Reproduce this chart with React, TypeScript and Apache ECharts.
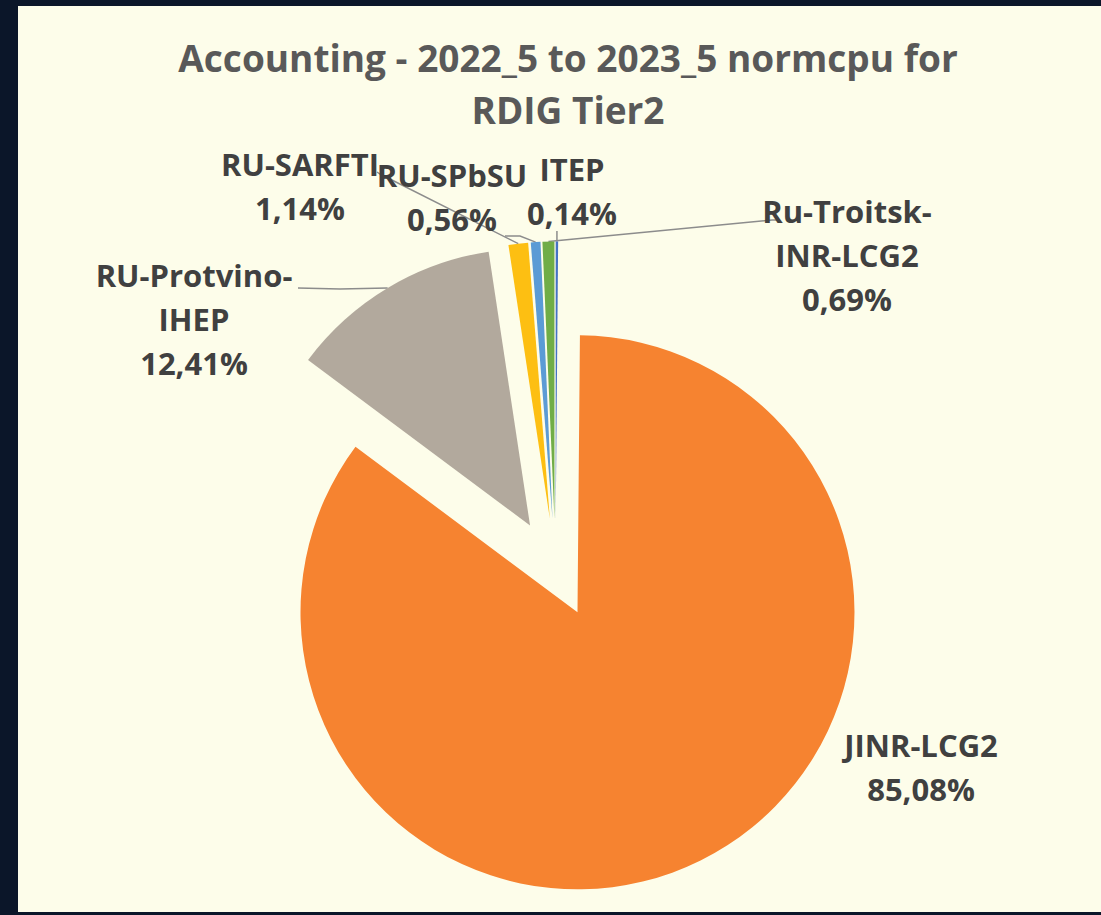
import React, { useEffect, useRef } from 'react';
import * as echarts from 'echarts';

// ---------- data ----------
const categories = ['ITEP', 'JINR-LCG2', 'RU-Protvino-IHEP', 'RU-SARFTI', 'RU-SPbSU', 'Ru-Troitsk-INR-LCG2'];
const shares = [0.14, 85.08, 12.41, 1.14, 0.56, 0.69];
const titleLines = ['Accounting - 2022_5 to 2023_5 normcpu for', 'RDIG Tier2'];

// ---------- styles / layout ----------
const colors = ['#4472C4', '#F68330', '#B2A99D', '#FDBF12', '#5B9BD5', '#70AD47'];
const PIE_CX = 555.5;
const PIE_CY = 568;
const PIE_R = 277;
const EXPLODE = 49.5;
const TITLE_X = 568;
const TITLE_Y = 31;
const labelCenters: [number, number][] = [
  [572, 191],
  [921, 767],
  [194, 319],
  [300, 186],
  [452, 197],
  [847, 255],
];
// intermediate / end points of the leader lines
const leaderTails: ([number, number][] | null)[] = [
  [[0, 231], [0, 231]], // x replaced with edge x (vertical tick)
  null,
  [[340, 289], [298, 288]],
  [[380, 174], [377, 172]],
  [[520, 236], [505, 236]],
  [[772, 220], [779, 220]],
];

const LABEL_FONT = {
  fontFamily: 'Open Sans',
  fontWeight: 'bold' as const,
  fontSize: 31,
  lineHeight: 44,
  color: '#404040',
};

function wrapName(name: string): string {
  const parts = name.split('-');
  if (name.length > 12 && parts.length >= 3) {
    return parts.slice(0, 2).join('-') + '-\n' + parts.slice(2).join('-');
  }
  return name;
}

function formatPct(v: number): string {
  return v.toFixed(2).replace('.', ',') + '%';
}

export default function App() {
  const ref = useRef<HTMLDivElement>(null);

  useEffect(() => {
    if (!ref.current) return;
    const chart = echarts.init(ref.current, undefined, { renderer: 'svg' });

    const total = shares.reduce((a, b) => a + b, 0);
    let cum = 0;
    const series = shares.map((v, i) => {
      const mid = ((cum + v / 2) / total) * 2 * Math.PI;
      cum += v;
      const cx = PIE_CX + EXPLODE * Math.sin(mid);
      const cy = PIE_CY - EXPLODE * Math.cos(mid);
      const edge: [number, number] = [cx + PIE_R * Math.sin(mid), cy - PIE_R * Math.cos(mid)];
      return {
        type: 'pie',
        center: [cx, cy],
        radius: PIE_R,
        startAngle: 90,
        clockwise: true,
        avoidLabelOverlap: false,
        silent: true,
        emphasis: { disabled: true },
        label: {
          position: 'outside',
          formatter: (p: any) => wrapName(p.name) + '\n' + formatPct(p.value),
          ...LABEL_FONT,
          align: 'center',
        },
        labelLine: {
          lineStyle: { color: '#8C8C8C', width: 1.5 },
        },
        labelLayout: (p: any) => {
          const c = labelCenters[p.dataIndex];
          const tail = leaderTails[p.dataIndex];
          const res: any = { x: c[0], y: c[1], align: 'center', verticalAlign: 'middle' };
          if (tail) {
            const pts: [number, number][] = [edge];
            tail.forEach((pt) => {
              pts.push(p.dataIndex === 0 ? [edge[0], pt[1]] : pt);
            });
            res.labelLinePoints = pts;
          }
          return res;
        },
        data: categories.map((name, j) => ({
          name,
          value: shares[j],
          itemStyle: { color: colors[j], opacity: j === i ? 1 : 0, borderWidth: 0 },
          label: { show: j === i },
          labelLine: { show: j === i && leaderTails[j] !== null },
        })),
      };
    });

    chart.setOption({
      animation: false,
      backgroundColor: '#0B1629',
      graphic: [
        {
          type: 'rect',
          z: -10,
          silent: true,
          shape: { x: 18, y: 6, width: 1083, height: 906 },
          style: { fill: '#FDFDEA' },
        },
        {
          type: 'text',
          z: 10,
          silent: true,
          x: TITLE_X,
          y: TITLE_Y,
          style: {
            text: titleLines.join('\n'),
            align: 'center',
            verticalAlign: 'top',
            fontFamily: 'Open Sans',
            fontWeight: 'bold',
            fontSize: 37,
            lineHeight: 52,
            fill: '#595959',
          },
        },
      ],
      series,
    });

    return () => chart.dispose();
  }, []);

  return (
    <div
      ref={ref}
      style={{ position: 'fixed', left: 0, top: 0, width: 1101, height: 915 }}
    />
  );
}
